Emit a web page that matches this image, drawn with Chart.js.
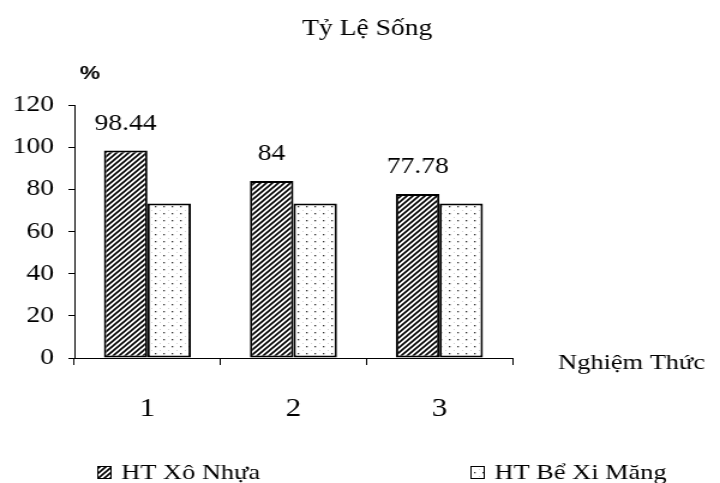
<!DOCTYPE html>
<html>
<head>
<meta charset="utf-8">
<script src="https://cdn.jsdelivr.net/npm/chart.js@4/dist/chart.umd.min.js"></script>
<style>
  html, body { margin: 0; padding: 0; background: #fff; overflow: hidden; }
  /* the original figure is a horizontally stretched export: draw at 600 wide, show at 720 */
  #chart { width: 720px !important; height: 483px !important; display: block; }
</style>
</head>
<body>
<canvas id="chart" width="600" height="483"></canvas>
<script>
// Tỷ Lệ Sống theo nghiệm thức
const categories = ['1', '2', '3'];
const xoNhua = [98.44, 84, 77.78];
const beXiMang = [73.33, 73.33, 73.33];
const seriesNames = ['HT Xô Nhựa', 'HT Bể Xi Măng'];
const yTicks = [0, 20, 40, 60, 80, 100, 120];

const SERIF = '"Liberation Serif", "Times New Roman", serif';

function hatchPattern() {
    const c = document.createElement('canvas');
    c.width = 5; c.height = 5;
    const g = c.getContext('2d');
    g.fillStyle = '#fff';
    g.fillRect(0, 0, 5, 5);
    g.strokeStyle = '#000';
    g.lineWidth = 1.6;
    g.beginPath();
    g.moveTo(-1, 6); g.lineTo(6, -1);
    g.moveTo(-1, 1); g.lineTo(1, -1);
    g.moveTo(4, 6); g.lineTo(6, 4);
    g.stroke();
    return g.createPattern(c, 'repeat');
}

function dotPattern() {
    const c = document.createElement('canvas');
    c.width = 7; c.height = 7;
    const g = c.getContext('2d');
    g.fillStyle = '#fff';
    g.fillRect(0, 0, 7, 7);
    g.fillStyle = '#333';
    g.fillRect(3, 3, 1.3, 1.3);
    g.fillStyle = '#d0d0d0';
    g.fillRect(0, 0, 1, 1);
    return g.createPattern(c, 'repeat');
}

const fills = [hatchPattern(), dotPattern()];

// title, axis notes, value labels and legend
const extras = {
    id: 'extras',
    afterDatasetsDraw(chart) {
        const ctx = chart.ctx;
        const area = chart.chartArea;
        ctx.save();
        ctx.fillStyle = '#000';
        ctx.textBaseline = 'middle';

        ctx.font = '23px ' + SERIF;
        ctx.textAlign = 'center';
        ctx.fillText('Tỷ Lệ Sống', 306, 29);

        ctx.font = 'bold 19px "Liberation Sans", Arial, sans-serif';
        ctx.fillText('%', 75, 74);

        ctx.font = '22px ' + SERIF;
        ctx.textAlign = 'left';
        ctx.fillText('Nghiệm Thức', area.right + 38, 363);

        // value labels over the first series
        ctx.font = '23px ' + SERIF;
        ctx.textAlign = 'center';
        const meta = chart.getDatasetMeta(0);
        meta.data.forEach((bar, i) => {
            ctx.fillText(String(xoNhua[i]), bar.x, bar.y - 27);
        });

        // legend
        const legendX = [81, 392];
        ctx.font = '22px ' + SERIF;
        ctx.textAlign = 'left';
        seriesNames.forEach((name, i) => {
            ctx.fillStyle = fills[i];
            ctx.fillRect(legendX[i], 466, 11, 12);
            ctx.strokeStyle = '#000';
            ctx.lineWidth = 1;
            ctx.strokeRect(legendX[i] + 0.5, 466.5, 11, 12);
            ctx.fillStyle = '#000';
            ctx.fillText(name, legendX[i] + 20, 473);
        });
        ctx.restore();
    }
};

new Chart(document.getElementById('chart'), {
    type: 'bar',
    data: {
        labels: categories,
        datasets: [{
            label: seriesNames[0],
            data: xoNhua,
            backgroundColor: fills[0],
            borderColor: '#000',
            borderWidth: 2,
            borderSkipped: false
        }, {
            label: seriesNames[1],
            data: beXiMang,
            backgroundColor: fills[1],
            borderColor: '#000',
            borderWidth: 2,
            borderSkipped: false
        }]
    },
    options: {
        responsive: false,
        devicePixelRatio: 1,
        animation: false,
        events: [],
        categoryPercentage: 0.596,
        barPercentage: 1.0,
        layout: { padding: { left: 0, right: 173, top: 105, bottom: 0 } },
        plugins: {
            legend: { display: false },
            title: { display: false },
            tooltip: { enabled: false }
        },
        scales: {
            x: {
                afterFit: s => { s.height = 125; },
                border: { color: '#000', width: 1 },
                grid: {
                    offset: true,
                    drawOnChartArea: false,
                    drawTicks: true,
                    tickLength: 7,
                    color: '#000'
                },
                ticks: {
                    color: '#000',
                    padding: 29,
                    font: { family: SERIF, size: 26 }
                }
            },
            y: {
                min: 0,
                max: 120,
                afterFit: s => { s.width = 62; },
                afterBuildTicks: s => { s.ticks = yTicks.map(v => ({ value: v })); },
                border: { color: '#000', width: 1 },
                grid: {
                    drawOnChartArea: false,
                    drawTicks: true,
                    tickLength: 5,
                    color: '#000'
                },
                ticks: {
                    color: '#000',
                    padding: 12,
                    font: { family: SERIF, size: 23 }
                }
            }
        }
    },
    plugins: [extras]
});
</script>
</body>
</html>
